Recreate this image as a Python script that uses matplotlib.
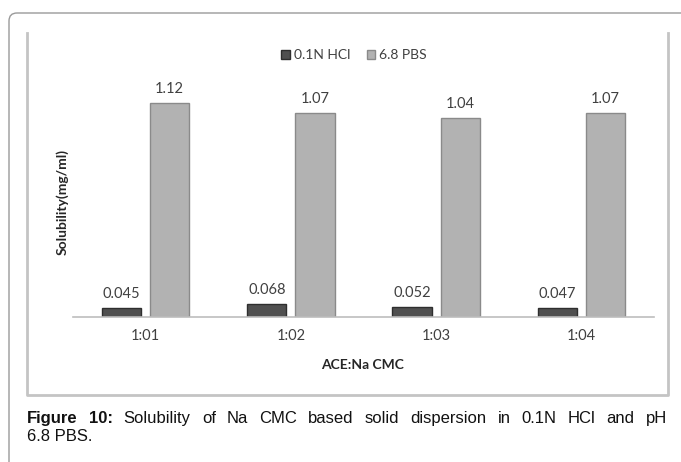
import matplotlib
matplotlib.use("Agg")
import matplotlib.pyplot as plt
import numpy as np
from matplotlib.patches import FancyBboxPatch
from matplotlib.lines import Line2D
from matplotlib.transforms import IdentityTransform

categories = ["1:01", "1:02", "1:03", "1:04"]
hcl = [0.045, 0.068, 0.052, 0.047]
pbs = [1.12, 1.07, 1.04, 1.07]
hcl_labels = ["0.045", "0.068", "0.052", "0.047"]
pbs_labels = ["1.12", "1.07", "1.04", "1.07"]

W, H = 681, 462
fig = plt.figure(figsize=(W / 100, H / 100), dpi=100)
fig.patch.set_facecolor("white")
px = IdentityTransform()

# outer rounded frame (runs off right and bottom edges)
fig.patches.append(FancyBboxPatch((9, -30), 720, H - 13 + 30,
                                  boxstyle="round,pad=0,rounding_size=8",
                                  transform=px, fill=False,
                                  edgecolor="#9a9a9a", linewidth=1.0))
# inner chart frame: left, right, bottom only
fig.lines.append(Line2D([27, 27, 668, 668], [H - 33, H - 395, H - 395, H - 33],
                        transform=px, color="#c4c4c4", linewidth=2.0))

ax = fig.add_axes([73 / W, 1 - 317 / H, (654 - 73) / W, 1.25 * 191 / H])
x = np.arange(len(categories))
w = 0.27
off = 0.166
b1 = ax.bar(x - off, hcl, w, color="#505050", edgecolor="#2e2e2e", linewidth=1.0,
            label="0.1N HCl")
b2 = ax.bar(x + off, pbs, w, color="#b2b2b2", edgecolor="#8a8a8a", linewidth=1.0,
            label="6.8 PBS")

font = "Lato"
for bars, labs in ((b1, hcl_labels), (b2, pbs_labels)):
    for r, t in zip(bars, labs):
        ax.annotate(t, (r.get_x() + r.get_width() / 2, r.get_height()),
                    xytext=(0, 5), textcoords="offset points", ha="center",
                    va="bottom", fontsize=10.5, color="#404040", family=font)

ax.set_xlim(-0.5, 3.5)
ax.set_ylim(0, 1.25)
ax.set_yticks([])
ax.set_xticks(x)
ax.set_xticklabels(categories, family=font, fontsize=10.5, color="#404040")
ax.tick_params(axis="x", length=0, pad=9)
for s in ("top", "right", "left"):
    ax.spines[s].set_visible(False)
ax.spines["bottom"].set_color("#bdbdbd")
ax.spines["bottom"].set_linewidth(1.2)

fig.text(363 / W, 1 - 365 / H, "ACE:Na CMC", ha="center", va="center",
         family=font, fontsize=10, fontweight="bold", color="#262626")
fig.text(62 / W, 1 - 202 / H, "Solubility(mg/ml)", ha="center", va="center",
         rotation=90, family=font, fontsize=10, fontweight="bold", color="#262626")

leg = fig.legend(handles=[b1, b2], loc="center", bbox_to_anchor=(354 / W, 1 - 55 / H),
                 ncol=2, frameon=False, prop={"family": font, "size": 10},
                 handlelength=0.6, handleheight=0.6, handletextpad=0.3,
                 columnspacing=1.2, labelcolor="#404040")

# caption, justified first line
renderer = fig.canvas.get_renderer()
cap_font = "Liberation Sans"
cap_size = 12
words = ["Figure", "10:", "Solubility", "of", "Na", "CMC", "based", "solid",
         "dispersion", "in", "0.1N", "HCl", "and", "pH"]
bold_n = 2
texts = []
for i, wd in enumerate(words):
    t = fig.text(0, 0, wd, family=cap_font, fontsize=cap_size,
                 fontweight="bold" if i < bold_n else "normal",
                 transform=px, va="baseline", color="#111111")
    texts.append(t)
widths = [t.get_window_extent(renderer).width for t in texts]
x0, x1 = 27, 667
gap = (x1 - x0 - sum(widths)) / (len(words) - 1)
cx = x0
for t, wd in zip(texts, widths):
    t.set_position((cx, H - 423))
    cx += wd + gap
fig.text(27, H - 441, "6.8 PBS.", family=cap_font, fontsize=cap_size,
         transform=px, va="baseline", color="#111111")

fig.savefig("out.png", dpi=100)
